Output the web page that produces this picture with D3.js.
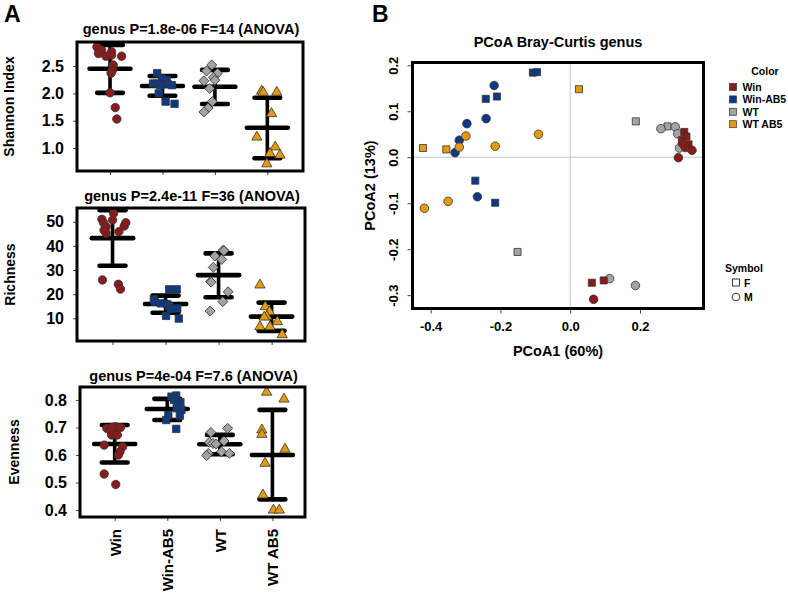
<!DOCTYPE html>
<html><head><meta charset="utf-8">
<script src="https://cdn.jsdelivr.net/npm/d3@7"></script>
<style>
body{margin:0;background:#fff}
svg{display:block}
text{font-family:"Liberation Sans",Arial,Helvetica,sans-serif;font-weight:bold;fill:#000}
</style>
</head><body><svg id="c" width="788" height="596"></svg>
<script>
// ---------------- DATA ----------------
const groups = ["Win", "Win-AB5", "WT", "WT AB5"];
const groupColors = ["#8B1A1A", "#0E3A85", "#A3A3A3", "#E5990D"];
const groupShapes = ["circle", "square", "diamond", "triangle"];

// Shannon index (genus)
const shannonValues = [
  [2.85, 2.79, 2.73, 2.68, 2.76, 2.70, 2.68, 2.52, 2.43, 2.37, 2.01, 1.74, 1.53],
  [2.37, 2.27, 2.18, 2.18, 2.24, 2.17, 2.15, 2.15, 2.00, 1.85, 1.81],
  [2.52, 2.41, 2.37, 2.29, 2.23, 2.24, 2.09, 1.85, 1.73, 1.66],
  [2.04, 2.02, 2.02, 1.63, 1.20, 1.02, 0.90, 0.87, 0.71]
];
const shannonJitter = [
  [-0.25, -0.16, -0.22, -0.08, 0.03, 0.03, 0.22, 0.06, 0.05, 0.02, 0.00, 0.10, 0.13],
  [-0.10, -0.01, -0.18, -0.11, 0.08, 0.10, 0.18, -0.04, -0.07, 0.06, 0.23],
  [-0.06, -0.16, 0.05, -0.03, -0.21, 0.00, -0.10, -0.05, -0.13, -0.21],
  [-0.11, -0.08, 0.18, 0.08, -0.20, 0.15, 0.05, 0.24, -0.01]
];
const shannonMean = [2.45, 2.135, 2.12, 1.372];
const shannonLow  = [2.01, 1.958, 1.806, 0.812];
const shannonHigh = [2.885, 2.318, 2.43, 1.921];
const shannonTicks = [1.0, 1.5, 2.0, 2.5];

// Richness (genus)
const richnessValues = [
  [51.0, 49.6, 47.9, 45.2, 53.5, 50.7, 45.9, 48.2, 49.6, 25.9, 24.1, 22.1, 46.5],
  [22.0, 22.0, 17.9, 16.9, 16.2, 15.9, 15.1, 13.9, 14.1, 11.0, 9.9],
  [38.3, 35.8, 34.4, 31.1, 25.2, 21.0, 16.9, 13.0, 38.0, 25.0],
  [23.8, 14.8, 12.7, 10.7, 8.6, 6.5, 6.5, 3.2, 10.5]
];
const richnessJitter = [
  [-0.20, -0.17, -0.12, -0.12, 0.02, 0.00, 0.12, 0.22, 0.25, -0.19, 0.11, 0.15, -0.16],
  [0.07, 0.21, -0.22, -0.20, -0.09, 0.03, 0.07, 0.10, 0.22, 0.01, 0.25],
  [0.09, -0.07, 0.06, -0.10, -0.15, 0.18, 0.08, -0.16, 0.10, -0.14],
  [-0.22, -0.12, -0.04, -0.09, 0.11, -0.22, -0.03, 0.20, -0.14]
];
const richnessMean = [43.2, 15.9, 27.9, 10.7];
const richnessLow  = [31.8, 12.3, 18.7, 4.8];
const richnessHigh = [54.8, 19.4, 36.9, 16.5];
const richnessTicks = [10, 20, 30, 40, 50];

// Evenness (genus)
const evennessValues = [
  [0.697, 0.703, 0.700, 0.673, 0.673, 0.636, 0.630, 0.612, 0.600, 0.531, 0.493, 0.690, 0.700],
  [0.812, 0.816, 0.792, 0.770, 0.764, 0.745, 0.743, 0.727, 0.695, 0.800, 0.780],
  [0.682, 0.697, 0.646, 0.642, 0.651, 0.606, 0.612, 0.606, 0.598, 0.640],
  [0.828, 0.803, 0.691, 0.675, 0.621, 0.570, 0.455, 0.400, 0.400]
];
const evennessJitter = [
  [-0.15, 0.01, 0.11, -0.06, 0.05, -0.20, 0.15, 0.10, 0.07, -0.20, 0.02, -0.09, -0.05],
  [0.08, 0.17, 0.25, 0.18, 0.27, 0.02, 0.24, -0.02, 0.17, 0.13, 0.20],
  [-0.17, 0.15, -0.20, -0.13, 0.08, -0.22, 0.03, 0.18, -0.25, -0.07],
  [-0.11, 0.22, -0.20, -0.20, 0.24, -0.14, -0.18, 0.02, 0.13]
];
const evennessMean = [0.640, 0.767, 0.639, 0.600];
const evennessLow  = [0.573, 0.727, 0.603, 0.439];
const evennessHigh = [0.709, 0.804, 0.673, 0.764];
const evennessTicks = [0.4, 0.5, 0.6, 0.7, 0.8];

// PCoA Bray-Curtis genus
const pcoaX     = [-0.330, -0.318, -0.296, -0.241, -0.218, -0.266, -0.242, -0.210, -0.107, -0.095, -0.272, -0.215,
                   -0.422, -0.355, 0.025, -0.318, -0.299, -0.215, -0.091, -0.418, -0.350,
                   -0.151, 0.188, 0.279, 0.113, 0.187, 0.260, 0.301, 0.308,
                   0.062, 0.096, 0.327, 0.320, 0.339, 0.333,
                   0.313,
                   0.067, 0.349, 0.330, 0.310, 0.322];
const pcoaY     = [0.010, 0.037, 0.073, 0.084, 0.156, -0.086, 0.127, 0.132, 0.184, 0.185, -0.051, -0.099,
                   0.020, 0.017, 0.148, 0.022, 0.046, 0.024, 0.050, -0.111, -0.096,
                   -0.206, 0.078, 0.067, -0.264, -0.279, 0.062, 0.066, 0.051,
                   -0.273, -0.268, 0.055, 0.037, 0.028, 0.045,
                   0.020,
                   -0.309, 0.015, 0.021, -0.001, 0.030];
const pcoaGroup = [1,1,1,1,1,1,1,1,1,1,1,1,
                   3,3,3,3,3,3,3,3,3,
                   2,2,2,2,2,2,2,2,
                   0,0,0,0,0,0,
                   2,
                   0,0,0,0,0];
const pcoaSex   = ["M","M","M","M","M","M","F","F","F","F","F","F",
                   "F","F","F","M","M","M","M","M","M",
                   "F","F","F","M","M","M","M","M",
                   "F","F","F","F","F","F",
                   "M",
                   "M","M","M","M","M"];
const pcoaXTicks = [-0.4, -0.2, 0.0, 0.2];
const pcoaYTicks = [-0.3, -0.2, -0.1, 0.0, 0.1, 0.2];
const sexLabels = ["F", "M"];

// ---------------- DRAW ----------------
const svg = d3.select("#c");
const fmt1 = v => v.toFixed(1);
const FONT = '"Liberation Sans",Arial,sans-serif';

function symbolPath(shape, area) {
  const t = {circle: d3.symbolCircle, square: d3.symbolSquare, diamond: d3.symbolSquare, triangle: d3.symbolTriangle}[shape];
  return d3.symbol().type(t).size(area)();
}

const panels = [
  {vals: shannonValues, jit: shannonJitter, mean: shannonMean, lo: shannonLow, hi: shannonHigh, ticks: shannonTicks, tf: fmt1,
   title: "genus P=1.8e-06 F=14 (ANOVA)", ylab: "Shannon Index",
   box: {l: 77, r: 303, t: 42, b: 171}, ydom: [0.58, 2.94], xdom: [0.37, 4.68], titleY: 34, ylabX: 13.5, xlabels: false},
  {vals: richnessValues, jit: richnessJitter, mean: richnessMean, lo: richnessLow, hi: richnessHigh, ticks: richnessTicks, tf: d => String(d),
   title: "genus P=2.4e-11 F=36 (ANOVA)", ylab: "Richness",
   box: {l: 77, r: 305, t: 208, b: 341}, ydom: [0.6, 55.7], xdom: [0.33, 4.63], titleY: 201, ylabX: 15, xlabels: false},
  {vals: evennessValues, jit: evennessJitter, mean: evennessMean, lo: evennessLow, hi: evennessHigh, ticks: evennessTicks, tf: fmt1,
   title: "genus P=4e-04 F=7.6 (ANOVA)", ylab: "Evenness",
   box: {l: 80, r: 305, t: 387, b: 517}, ydom: [0.375, 0.847], xdom: [0.34, 4.62], titleY: 381, ylabX: 18.5, xlabels: true}
];

panels.forEach(p => {
  const g = svg.append("g");
  const x = d3.scaleLinear().domain(p.xdom).range([p.box.l, p.box.r]);
  const y = d3.scaleLinear().domain(p.ydom).range([p.box.b, p.box.t]);
  const step = x(2) - x(1);

  g.append("text").attr("x", (p.box.l + p.box.r) / 2 + 1).attr("y", p.titleY)
    .attr("text-anchor", "middle").style("font-size", "14.5px").text(p.title);
  g.append("text").attr("transform", `translate(${p.ylabX},${(p.box.t + p.box.b) / 2}) rotate(-90)`)
    .attr("text-anchor", "middle").style("font-size", "14px").text(p.ylab);

  const yAxis = d3.axisLeft(y).tickValues(p.ticks).tickFormat(p.tf).tickSize(4).tickPadding(9);
  const ya = g.append("g").attr("transform", `translate(${p.box.l},0)`).call(yAxis);
  ya.select(".domain").remove();
  ya.selectAll("line").attr("stroke", "#444");
  ya.selectAll("text").style("font-size", "16px").style("font-family", FONT).style("font-weight", "bold").attr("fill", "#000");

  const xAxis = d3.axisBottom(x).tickValues([1, 2, 3, 4]).tickFormat((d, i) => groups[i]).tickSize(4);
  const xa = g.append("g").attr("transform", `translate(0,${p.box.b})`).call(xAxis);
  xa.select(".domain").remove();
  xa.selectAll("line").attr("stroke", "#444");
  if (p.xlabels) {
    xa.selectAll("text").attr("transform", "rotate(-90)").attr("text-anchor", "end")
      .attr("x", -12).attr("y", 0).attr("dy", "0.36em").attr("fill", "#000")
      .style("font-size", "15px").style("font-family", FONT).style("font-weight", "bold");
  } else {
    xa.selectAll("text").remove();
  }

  // mean +- sd bars (under the points)
  const bars = g.append("g").attr("stroke", "#000").attr("stroke-linecap", "round");
  groups.forEach((gname, gi) => {
    const cx = x(gi + 1);
    bars.append("line").attr("x1", cx).attr("x2", cx).attr("y1", y(p.lo[gi])).attr("y2", y(p.hi[gi])).attr("stroke-width", 3.6);
    bars.append("line").attr("x1", cx - 0.39 * step).attr("x2", cx + 0.39 * step).attr("y1", y(p.mean[gi])).attr("y2", y(p.mean[gi])).attr("stroke-width", 4.6);
    [p.lo[gi], p.hi[gi]].forEach(v => {
      bars.append("line").attr("x1", cx - 0.245 * step).attr("x2", cx + 0.245 * step).attr("y1", y(v)).attr("y2", y(v)).attr("stroke-width", 4.6);
    });
  });

  // points
  p.vals.forEach((arr, gi) => {
    const shape = groupShapes[gi];
    const area = {circle: 56, square: 55, diamond: 50, triangle: 46}[shape];
    g.append("g").selectAll("path").data(arr).join("path")
      .attr("d", symbolPath(shape, area))
      .attr("transform", (d, i) => `translate(${x(gi + 1) + p.jit[gi][i] * step},${y(d)})` + (shape === "diamond" ? " rotate(45)" : ""))
      .attr("fill", groupColors[gi]).attr("stroke", "#333").attr("stroke-width", 0.8);
  });

  g.append("rect").attr("x", p.box.l).attr("y", p.box.t).attr("width", p.box.r - p.box.l).attr("height", p.box.b - p.box.t)
    .attr("fill", "none").attr("stroke", "#000").attr("stroke-width", 3);
});

svg.append("text").attr("x", 4).attr("y", 22).style("font-size", "23px").text("A");
svg.append("text").attr("x", 372).attr("y", 22).style("font-size", "23px").text("B");

// ---------------- PANEL B ----------------
const bx = {l: 412.5, r: 703.5, t: 62.5, b: 308.5};
const px = d3.scaleLinear().domain([-0.452, 0.382]).range([bx.l, bx.r]);
const py = d3.scaleLinear().domain([-0.329, 0.206]).range([bx.b, bx.t]);
const gb = svg.append("g");

gb.append("text").attr("x", (bx.l + bx.r) / 2).attr("y", 47).attr("text-anchor", "middle").style("font-size", "14.5px").text("PCoA Bray-Curtis genus");
gb.append("text").attr("x", (bx.l + bx.r) / 2).attr("y", 356).attr("text-anchor", "middle").style("font-size", "14.5px").text("PCoA1 (60%)");
gb.append("text").attr("transform", `translate(375,${(bx.t + bx.b) / 2}) rotate(-90)`).attr("text-anchor", "middle").style("font-size", "14.5px").text("PCoA2 (13%)");

gb.append("line").attr("x1", px(0)).attr("x2", px(0)).attr("y1", bx.t).attr("y2", bx.b).attr("stroke", "#c4c4c4").attr("stroke-width", 1);
gb.append("line").attr("x1", bx.l).attr("x2", bx.r).attr("y1", py(0)).attr("y2", py(0)).attr("stroke", "#c4c4c4").attr("stroke-width", 1);

const bxa = gb.append("g").attr("transform", `translate(0,${bx.b})`)
  .call(d3.axisBottom(px).tickValues(pcoaXTicks).tickFormat(fmt1).tickSize(5).tickPadding(8));
bxa.select(".domain").remove();
bxa.selectAll("line").attr("stroke", "#444");
bxa.selectAll("text").attr("fill", "#000").style("font-size", "13px").style("font-family", FONT).style("font-weight", "bold");

const bya = gb.append("g").attr("transform", `translate(${bx.l},0)`)
  .call(d3.axisLeft(py).tickValues(pcoaYTicks).tickFormat(fmt1).tickSize(5));
bya.select(".domain").remove();
bya.selectAll("line").attr("stroke", "#444");
bya.selectAll("text").attr("fill", "#000").attr("transform", "rotate(-90)")
  .attr("text-anchor", "middle").attr("x", 0).attr("y", -14.5).attr("dy", 0)
  .style("font-size", "13px").style("font-family", FONT).style("font-weight", "bold");

gb.append("g").selectAll("path").data(pcoaX).join("path")
  .attr("d", (d, i) => pcoaSex[i] === "F" ? d3.symbol().type(d3.symbolSquare).size(50)() : d3.symbol().type(d3.symbolCircle).size(58)())
  .attr("transform", (d, i) => `translate(${px(d)},${py(pcoaY[i])})`)
  .attr("fill", (d, i) => groupColors[pcoaGroup[i]])
  .attr("stroke", "#333").attr("stroke-width", 0.8);

gb.append("rect").attr("x", bx.l).attr("y", bx.t).attr("width", bx.r - bx.l).attr("height", bx.b - bx.t)
  .attr("fill", "none").attr("stroke", "#000").attr("stroke-width", 3);

// legends
const lg = svg.append("g");
lg.append("text").attr("x", 765).attr("y", 74.5).attr("text-anchor", "middle").style("font-size", "10.5px").text("Color");
groups.forEach((gname, i) => {
  const yy = 87 + i * 12.4;
  lg.append("rect").attr("x", 729.5).attr("y", yy - 3.5).attr("width", 7).attr("height", 7)
    .attr("fill", groupColors[i]).attr("stroke", "#333").attr("stroke-width", 0.7);
  lg.append("text").attr("x", 742.5).attr("y", yy + 4).style("font-size", "10.5px").text(gname);
});
lg.append("text").attr("x", 744).attr("y", 271.5).attr("text-anchor", "middle").style("font-size", "10.5px").text("Symbol");
sexLabels.forEach((s, i) => {
  const yy = 282.5 + i * 14.5;
  if (s === "F") {
    lg.append("rect").attr("x", 732.5).attr("y", yy - 3.5).attr("width", 7).attr("height", 7).attr("fill", "none").attr("stroke", "#222").attr("stroke-width", 0.9);
  } else {
    lg.append("circle").attr("cx", 736).attr("cy", yy).attr("r", 3.8).attr("fill", "none").attr("stroke", "#222").attr("stroke-width", 0.9);
  }
  lg.append("text").attr("x", 744).attr("y", yy + 4).style("font-size", "10.5px").text(s);
});
</script>
</body></html>
